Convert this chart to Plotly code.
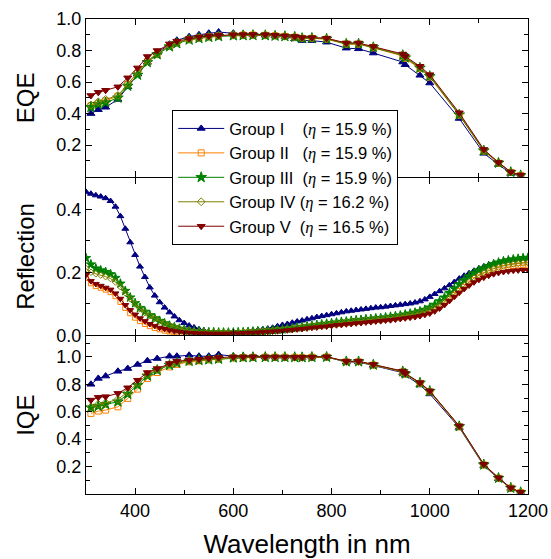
import plotly.graph_objects as go
from plotly.subplots import make_subplots

# ---------------- data ----------------
groups = ["Group I", "Group II", "Group III", "Group IV", "Group V"]
efficiencies = ["15.9", "15.9", "15.9", "16.2", "16.5"]
legend_pad = ["    ", "   ", "  ", " ", "  "]

# EQE / IQE wavelengths (nm)
wl_qe = [310, 325, 340, 365, 385, 405, 425, 445, 470, 485, 510, 530, 550, 570,
         600, 620, 640, 665, 685, 705, 725, 740, 760, 790, 830, 855, 885, 945,
         950, 980, 1000, 1060, 1110, 1140, 1165, 1185]

eqe_1 = [0.40, 0.425, 0.44, 0.49, 0.57, 0.65, 0.725, 0.785, 0.84, 0.865, 0.888, 0.90,
         0.91, 0.917, 0.91, 0.905, 0.90, 0.897, 0.893, 0.889, 0.874, 0.863, 0.863,
         0.853, 0.815, 0.811, 0.784, 0.727, 0.71, 0.643, 0.594, 0.369, 0.148, 0.077,
         0.02, 0.005]
eqe_2 = [0.45, 0.465, 0.48, 0.51, 0.585, 0.655, 0.73, 0.775, 0.83, 0.85, 0.87, 0.88,
         0.887, 0.893, 0.897, 0.898, 0.898, 0.897, 0.894, 0.89, 0.885, 0.877, 0.877,
         0.872, 0.84, 0.84, 0.817, 0.765, 0.75, 0.685, 0.632, 0.39, 0.162, 0.085,
         0.027, 0.008]
eqe_3 = [0.44, 0.46, 0.47, 0.50, 0.575, 0.645, 0.725, 0.775, 0.825, 0.845, 0.868, 0.878,
         0.885, 0.89, 0.895, 0.896, 0.897, 0.896, 0.893, 0.89, 0.886, 0.878, 0.879,
         0.874, 0.842, 0.843, 0.82, 0.77, 0.755, 0.69, 0.637, 0.393, 0.165, 0.087,
         0.028, 0.008]
eqe_4 = [0.455, 0.475, 0.49, 0.515, 0.59, 0.665, 0.735, 0.78, 0.832, 0.85, 0.87, 0.88,
         0.888, 0.893, 0.897, 0.898, 0.899, 0.898, 0.895, 0.891, 0.887, 0.88, 0.88,
         0.876, 0.845, 0.845, 0.822, 0.773, 0.758, 0.693, 0.64, 0.398, 0.168, 0.088,
         0.029, 0.009]
eqe_5 = [0.515, 0.535, 0.548, 0.57, 0.627, 0.69, 0.762, 0.80, 0.842, 0.86, 0.876, 0.885,
         0.892, 0.896, 0.90, 0.901, 0.902, 0.901, 0.897, 0.893, 0.889, 0.882, 0.882,
         0.878, 0.848, 0.848, 0.826, 0.778, 0.763, 0.70, 0.647, 0.405, 0.173, 0.09,
         0.03, 0.01]

iqe_1 = [0.80, 0.843, 0.86, 0.895, 0.915, 0.945, 0.972, 0.988, 1.005, 1.005, 1.012, 1.005,
         1.005, 1.017, 1.005, 1.005, 1.005, 1.0, 1.0, 1.0, 0.998, 0.996, 0.998, 1.0,
         0.962, 0.963, 0.938, 0.885, 0.868, 0.795, 0.73, 0.485, 0.207, 0.112, 0.041, 0.01]
iqe_2 = [0.588, 0.605, 0.612, 0.636, 0.697, 0.765, 0.843, 0.886, 0.927, 0.945, 0.964, 0.971,
         0.98, 0.985, 0.993, 0.995, 0.997, 0.998, 0.998, 0.998, 0.997, 0.996, 0.998, 0.999,
         0.965, 0.965, 0.94, 0.89, 0.874, 0.806, 0.745, 0.49, 0.212, 0.115, 0.043, 0.011]
iqe_3 = [0.63, 0.641, 0.654, 0.673, 0.729, 0.794, 0.862, 0.903, 0.94, 0.955, 0.97, 0.976,
         0.98, 0.985, 0.994, 0.996, 0.997, 0.998, 0.998, 0.998, 0.997, 0.996, 0.998, 0.999,
         0.966, 0.966, 0.942, 0.893, 0.877, 0.81, 0.75, 0.493, 0.214, 0.116, 0.044, 0.012]
iqe_4 = [0.635, 0.655, 0.665, 0.69, 0.745, 0.81, 0.872, 0.907, 0.945, 0.958, 0.972, 0.977,
         0.982, 0.987, 0.995, 0.997, 0.998, 0.999, 0.999, 0.998, 0.997, 0.996, 0.998, 1.0,
         0.967, 0.967, 0.943, 0.894, 0.878, 0.81, 0.751, 0.494, 0.215, 0.117, 0.044, 0.012]
iqe_5 = [0.685, 0.705, 0.71, 0.734, 0.775, 0.83, 0.886, 0.915, 0.952, 0.969, 0.976, 0.983,
         0.99, 0.995, 1.0, 1.0, 1.001, 1.0, 1.0, 0.999, 0.998, 0.997, 0.999, 1.001,
         0.968, 0.968, 0.945, 0.896, 0.88, 0.812, 0.752, 0.497, 0.217, 0.118, 0.045, 0.012]

# Reflection wavelengths (nm), 300..1200 every 10 nm
wl_r = list(range(300, 1201, 10))

refl_1 = [0.455, 0.449, 0.444, 0.440, 0.435, 0.426, 0.408, 0.378, 0.338, 0.295,
          0.255, 0.218, 0.185, 0.152, 0.126, 0.105, 0.088, 0.073, 0.060, 0.048,
          0.039, 0.031, 0.025, 0.019, 0.015, 0.012, 0.010, 0.009, 0.008, 0.008,
          0.009, 0.010, 0.011, 0.013, 0.015, 0.017, 0.019, 0.021, 0.024, 0.029,
          0.033, 0.036, 0.040, 0.044, 0.047, 0.051, 0.054, 0.058, 0.061, 0.064,
          0.067, 0.070, 0.073, 0.076, 0.078, 0.080, 0.082, 0.084, 0.086, 0.088,
          0.089, 0.091, 0.093, 0.095, 0.097, 0.099, 0.101, 0.104, 0.108, 0.114,
          0.122, 0.131, 0.140, 0.149, 0.159, 0.169, 0.180, 0.189, 0.197, 0.205,
          0.212, 0.218, 0.223, 0.227, 0.231, 0.234, 0.237, 0.240, 0.242, 0.244,
          0.245]
refl_2 = [0.182, 0.165, 0.156, 0.151, 0.145, 0.137, 0.124, 0.106, 0.087, 0.070,
          0.056, 0.045, 0.036, 0.029, 0.023, 0.019, 0.015, 0.012, 0.010, 0.008,
          0.007, 0.006, 0.006, 0.005, 0.005, 0.005, 0.005, 0.005, 0.006, 0.006,
          0.007, 0.007, 0.008, 0.009, 0.010, 0.011, 0.012, 0.013, 0.014, 0.016,
          0.017, 0.019, 0.020, 0.022, 0.024, 0.026, 0.028, 0.029, 0.031, 0.033,
          0.035, 0.036, 0.038, 0.040, 0.041, 0.043, 0.044, 0.046, 0.047, 0.049,
          0.050, 0.052, 0.053, 0.055, 0.057, 0.059, 0.061, 0.064, 0.067, 0.071,
          0.076, 0.083, 0.092, 0.103, 0.115, 0.128, 0.141, 0.153, 0.164, 0.175,
          0.184, 0.192, 0.199, 0.205, 0.210, 0.214, 0.217, 0.220, 0.222, 0.223,
          0.224]
refl_3 = [0.245, 0.225, 0.212, 0.206, 0.201, 0.194, 0.182, 0.164, 0.141, 0.120,
          0.102, 0.087, 0.075, 0.064, 0.054, 0.046, 0.038, 0.031, 0.026, 0.021,
          0.018, 0.015, 0.013, 0.012, 0.011, 0.010, 0.010, 0.009, 0.009, 0.009,
          0.009, 0.010, 0.010, 0.011, 0.012, 0.013, 0.014, 0.015, 0.016, 0.018,
          0.019, 0.021, 0.023, 0.025, 0.027, 0.029, 0.031, 0.033, 0.035, 0.037,
          0.039, 0.041, 0.043, 0.044, 0.046, 0.048, 0.049, 0.051, 0.052, 0.054,
          0.055, 0.057, 0.059, 0.061, 0.063, 0.066, 0.069, 0.072, 0.076, 0.081,
          0.088, 0.097, 0.108, 0.120, 0.134, 0.148, 0.162, 0.175, 0.187, 0.197,
          0.206, 0.213, 0.220, 0.226, 0.231, 0.235, 0.238, 0.241, 0.243, 0.245,
          0.246]
refl_4 = [0.212, 0.200, 0.195, 0.191, 0.186, 0.180, 0.169, 0.154, 0.135, 0.116,
          0.099, 0.084, 0.072, 0.062, 0.053, 0.045, 0.038, 0.032, 0.027, 0.022,
          0.018, 0.015, 0.013, 0.012, 0.011, 0.010, 0.010, 0.009, 0.009, 0.009,
          0.009, 0.009, 0.010, 0.010, 0.011, 0.012, 0.013, 0.014, 0.015, 0.017,
          0.018, 0.020, 0.022, 0.024, 0.026, 0.028, 0.030, 0.031, 0.033, 0.035,
          0.037, 0.039, 0.040, 0.042, 0.044, 0.045, 0.047, 0.048, 0.050, 0.051,
          0.053, 0.054, 0.056, 0.058, 0.060, 0.062, 0.065, 0.068, 0.071, 0.075,
          0.080, 0.087, 0.096, 0.107, 0.119, 0.132, 0.145, 0.158, 0.170, 0.181,
          0.190, 0.198, 0.205, 0.211, 0.216, 0.220, 0.223, 0.226, 0.228, 0.229,
          0.230]
refl_5 = [0.192, 0.172, 0.163, 0.157, 0.151, 0.145, 0.133, 0.116, 0.096, 0.080,
          0.066, 0.054, 0.045, 0.036, 0.030, 0.024, 0.020, 0.016, 0.013, 0.011,
          0.009, 0.008, 0.007, 0.006, 0.006, 0.005, 0.005, 0.005, 0.005, 0.005,
          0.006, 0.006, 0.007, 0.008, 0.008, 0.009, 0.010, 0.011, 0.012, 0.013,
          0.014, 0.016, 0.017, 0.019, 0.020, 0.022, 0.024, 0.025, 0.027, 0.028,
          0.030, 0.032, 0.033, 0.035, 0.036, 0.038, 0.039, 0.041, 0.042, 0.044,
          0.045, 0.047, 0.048, 0.050, 0.052, 0.054, 0.056, 0.058, 0.061, 0.065,
          0.069, 0.076, 0.085, 0.096, 0.109, 0.122, 0.135, 0.147, 0.158, 0.168,
          0.176, 0.183, 0.189, 0.194, 0.198, 0.201, 0.203, 0.205, 0.206, 0.207,
          0.207]

eqe = [eqe_1, eqe_2, eqe_3, eqe_4, eqe_5]
iqe = [iqe_1, iqe_2, iqe_3, iqe_4, iqe_5]
refl = [refl_1, refl_2, refl_3, refl_4, refl_5]

# ---------------- styles ----------------
colors = ["#000080", "#FF7F00", "#008000", "#808000", "#800000"]
symbols = ["triangle-up", "square-open", "star", "diamond-open", "triangle-down"]
msize_qe = [7, 6, 8, 6, 7]
msize_r = [6, 5, 7, 5, 6]

fig = make_subplots(rows=3, cols=1, shared_xaxes=True, vertical_spacing=1.0 / 475)

eta = "<span style='font-family:Liberation Serif, Times New Roman, serif'><i>η</i></span>"
for i in range(5):
    name = groups[i] + legend_pad[i] + "(" + eta + " = " + efficiencies[i] + " %)"
    common = dict(mode="lines+markers", line=dict(color=colors[i], width=1))
    fig.add_trace(go.Scatter(x=wl_qe, y=eqe[i], name=name, legendgroup=groups[i],
                             marker=dict(symbol=symbols[i], size=msize_qe[i], color=colors[i],
                                         line=dict(width=1, color=colors[i])),
                             showlegend=True, **common), row=1, col=1)
    fig.add_trace(go.Scatter(x=wl_r, y=refl[i], name=name, legendgroup=groups[i],
                             marker=dict(symbol=symbols[i], size=msize_r[i], color=colors[i],
                                         line=dict(width=1, color=colors[i])),
                             showlegend=False, **common), row=2, col=1)
    fig.add_trace(go.Scatter(x=wl_qe, y=iqe[i], name=name, legendgroup=groups[i],
                             marker=dict(symbol=symbols[i], size=msize_qe[i], color=colors[i],
                                         line=dict(width=1, color=colors[i])),
                             showlegend=False, **common), row=3, col=1)

font_family = "Liberation Sans, Arial, sans-serif"
axis_common = dict(showline=True, linecolor="black", linewidth=1, mirror="allticks",
                   ticks="inside", ticklen=6, tickwidth=1, tickcolor="black",
                   showgrid=False, zeroline=False, automargin=False,
                   tickfont=dict(size=18, color="black", family=font_family))

for r in (1, 2, 3):
    fig.update_xaxes(range=[300, 1200], tickvals=[400, 600, 800, 1000, 1200],
                     minor=dict(ticks="inside", ticklen=4, tickvals=[500, 700, 900, 1100],
                                tickcolor="black"),
                     showticklabels=(r == 3), row=r, col=1, **axis_common)

ytitle_font = dict(size=24, family=font_family, color="black")
fig.update_yaxes(range=[0, 1.0], tickvals=[0.2, 0.4, 0.6, 0.8, 1.0], tickformat=".1f",
                 minor=dict(ticks="inside", ticklen=4, tickvals=[0.1, 0.3, 0.5, 0.7, 0.9],
                            tickcolor="black"),
                 title=dict(text="EQE", font=ytitle_font, standoff=14),
                 row=1, col=1, **axis_common)
fig.update_yaxes(range=[0, 0.5], tickvals=[0.0, 0.2, 0.4], tickformat=".1f",
                 minor=dict(ticks="inside", ticklen=4, tickvals=[0.1, 0.3],
                            tickcolor="black"),
                 title=dict(text="Reflection", font=ytitle_font, standoff=14),
                 row=2, col=1, **axis_common)
fig.update_yaxes(range=[0, 1.15], tickvals=[0.2, 0.4, 0.6, 0.8, 1.0], tickformat=".1f",
                 minor=dict(ticks="inside", ticklen=4, tickvals=[0.1, 0.3, 0.5, 0.7, 0.9, 1.1],
                            tickcolor="black"),
                 title=dict(text="IQE", font=ytitle_font, standoff=14),
                 row=3, col=1, **axis_common)

fig.update_xaxes(title=dict(text="Wavelength in nm",
                            font=dict(size=26, family=font_family, color="black"),
                            standoff=22),
                 row=3, col=1)

fig.update_layout(
    width=551, height=559,
    margin=dict(l=86, r=23, t=19, b=65),
    paper_bgcolor="white", plot_bgcolor="white",
    font=dict(family=font_family, color="black"),
    legend=dict(x=0.195, y=0.808, xanchor="left", yanchor="top",
                bgcolor="white", bordercolor="black", borderwidth=1,
                font=dict(size=16.5, family=font_family, color="black"),
                itemwidth=46, tracegroupgap=0),
)

fig.write_html("out.html")
